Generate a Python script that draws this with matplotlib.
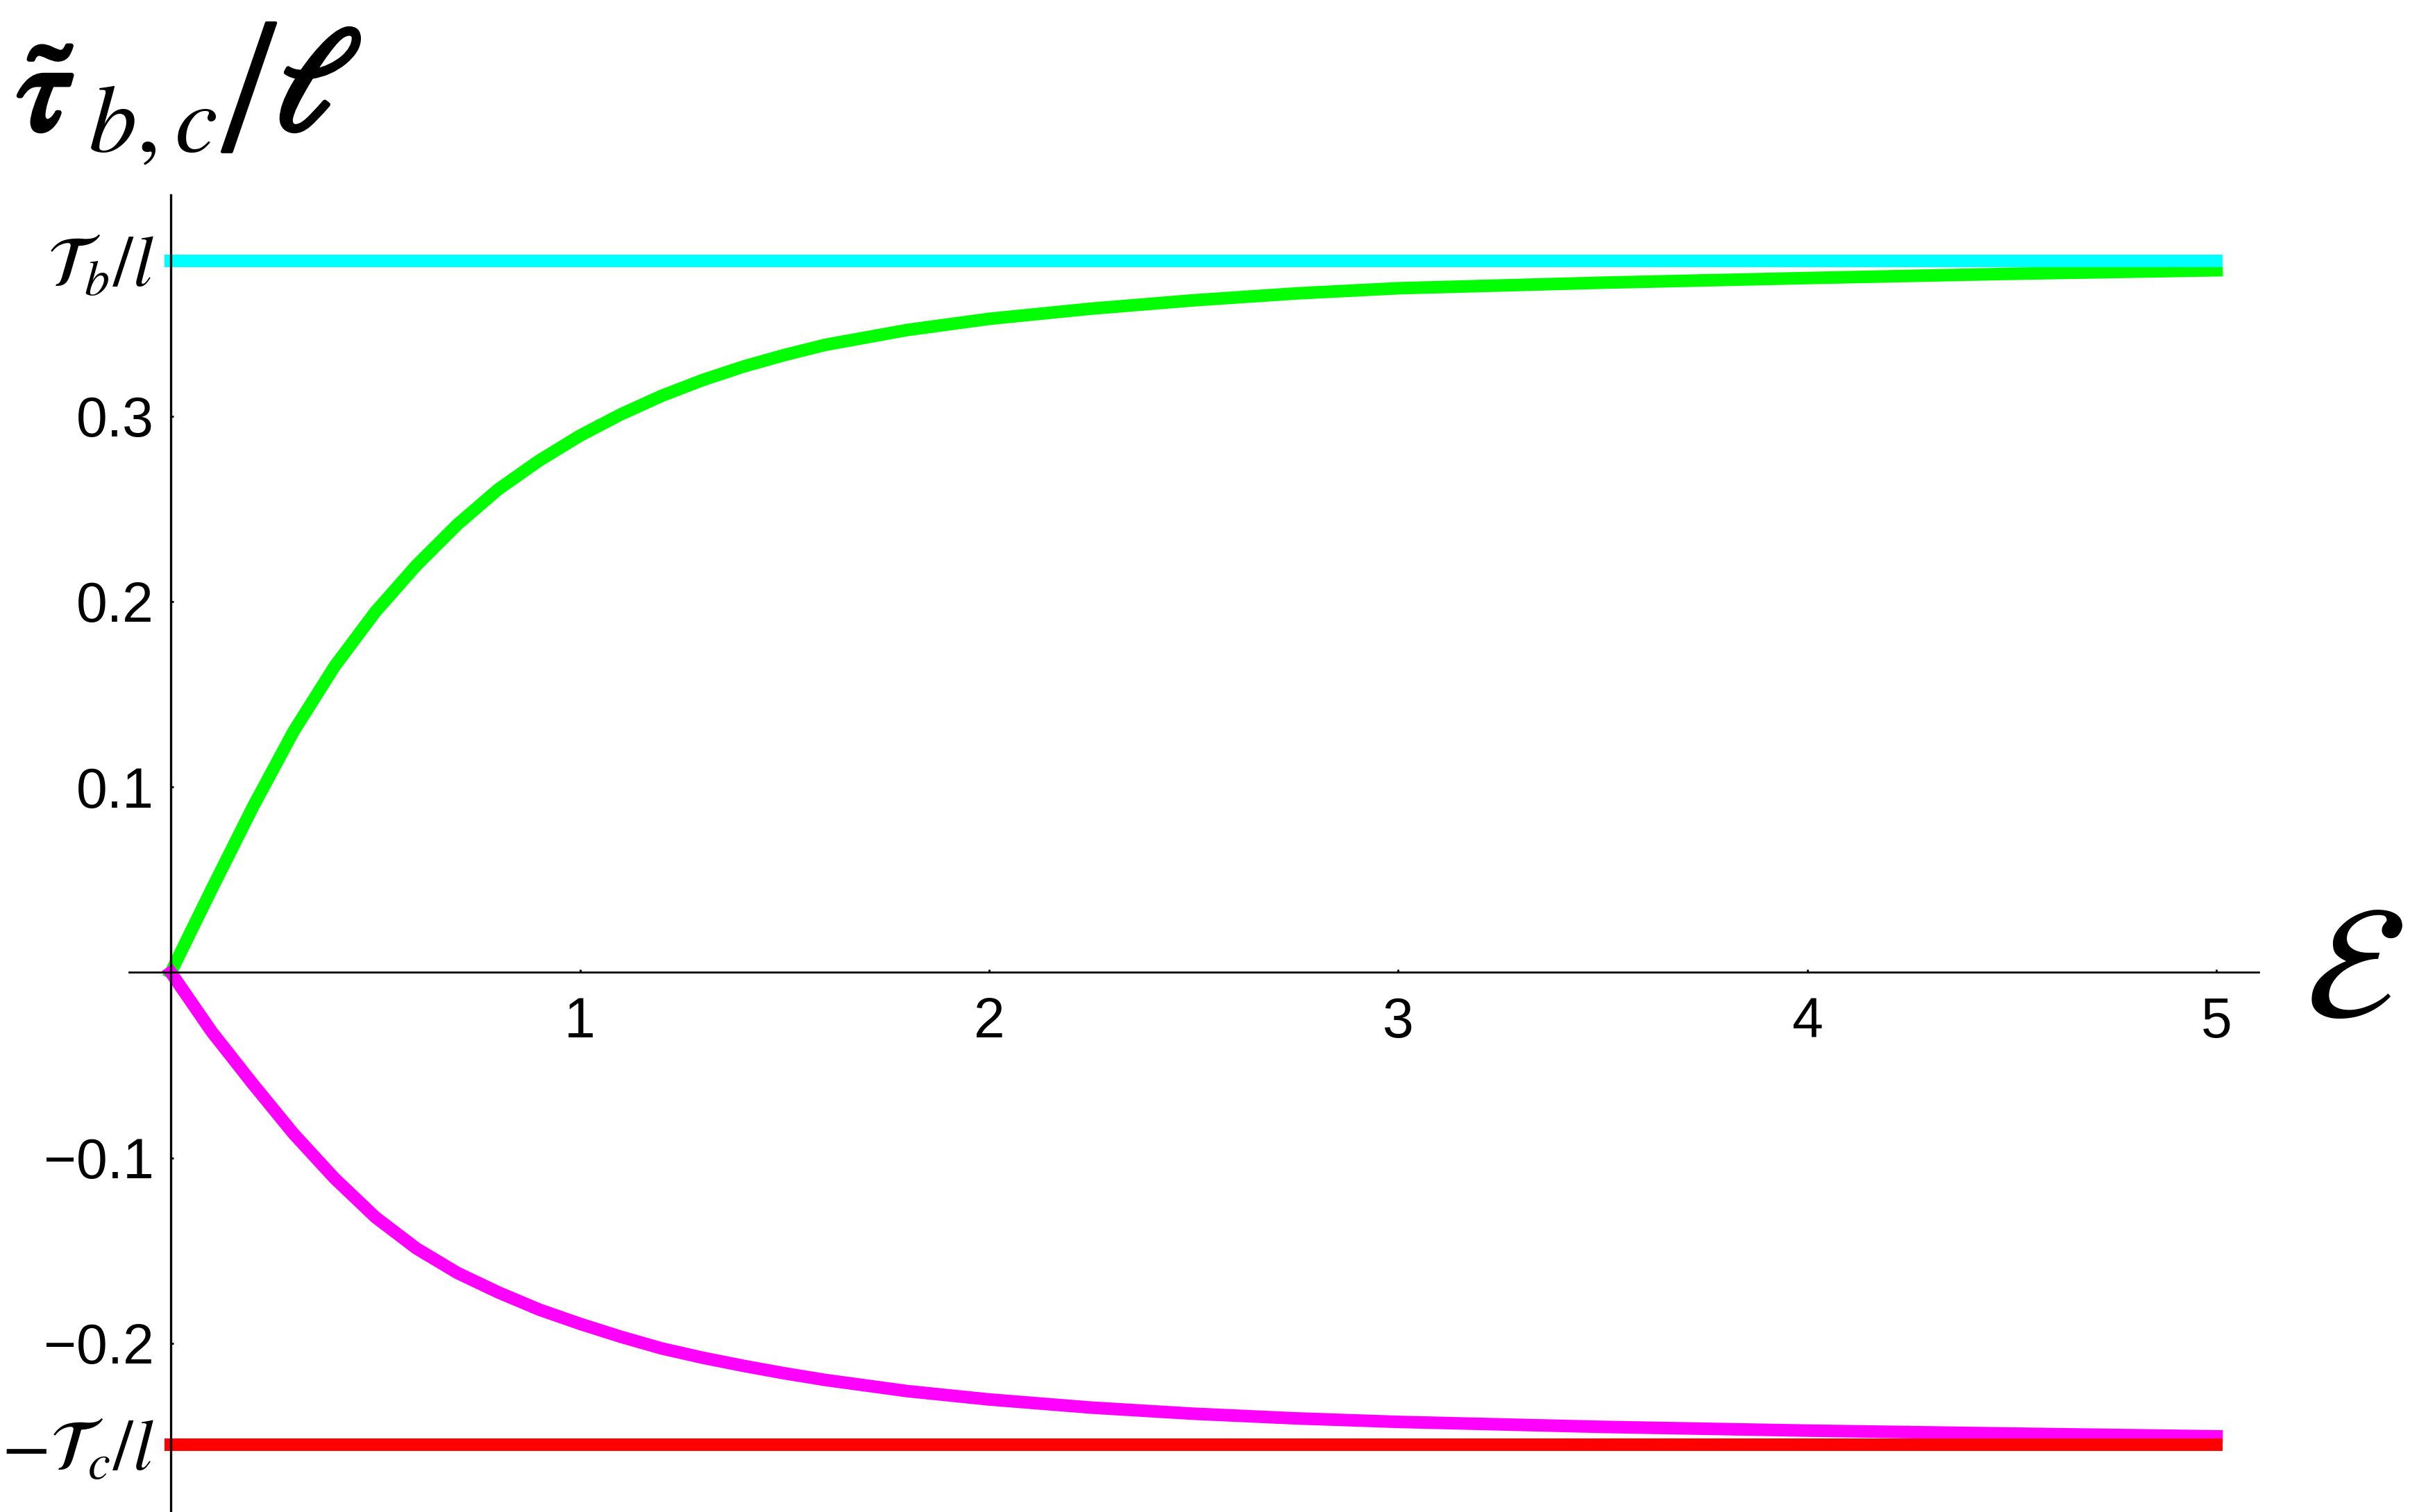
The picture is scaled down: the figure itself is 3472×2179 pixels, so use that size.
import matplotlib
matplotlib.use("Agg")
import matplotlib.pyplot as plt
import matplotlib.patheffects as pe

# ---- data ----
eps = [0, 0.1, 0.2, 0.3, 0.4, 0.5, 0.6, 0.7, 0.8, 0.9, 1.0, 1.1, 1.2, 1.3, 1.4,
       1.5, 1.6, 1.8, 2.0, 2.25, 2.5, 2.75, 3.0, 3.5, 4.0, 4.5, 5.0]
tau_b_curve = [0, 0.045, 0.089, 0.130, 0.165, 0.1945, 0.2195, 0.2415, 0.2605,
               0.276, 0.2895, 0.301, 0.311, 0.3195, 0.3268, 0.333, 0.3385,
               0.3465, 0.3525, 0.358, 0.3625, 0.3662, 0.369, 0.372, 0.3745,
               0.3768, 0.3787]
tau_c_curve = [0, -0.032, -0.060, -0.087, -0.111, -0.132, -0.1488, -0.162,
               -0.1725, -0.1818, -0.1895, -0.1965, -0.2028, -0.2078, -0.2122,
               -0.2162, -0.2198, -0.2258, -0.2303, -0.2347, -0.2380, -0.2405,
               -0.2424, -0.2451, -0.2471, -0.2487, -0.2502]
tau_b_limit = 0.3839
tau_c_limit = 0.2547
x_range = [0, 5]

xticks = [1, 2, 3, 4, 5]
xticklabels = ["1", "2", "3", "4", "5"]
yticks = [-tau_c_limit, -0.2, -0.1, 0.1, 0.2, 0.3, tau_b_limit]
yticklabels = [r"$-\mathcal{T}_c/l$", "\u22120.2", "\u22120.1", "0.1", "0.2", "0.3",
               r"$\mathcal{T}_b/l$"]

plt.rcParams["font.family"] = ["Liberation Sans", "DejaVu Sans"]
plt.rcParams["mathtext.fontset"] = "stix"

W, H = 3472, 2179
fig = plt.figure(figsize=(W / 200, H / 200), dpi=200)
ax = fig.add_axes([186 / W, 0.0, (3254 - 186) / W, (H - 281) / H])

lw = 6.5
ax.plot(eps, tau_b_curve, color=(0, 1, 0), lw=lw, solid_capstyle="projecting",
        solid_joinstyle="round", zorder=3)
ax.plot(eps, tau_c_curve, color=(1, 0, 1), lw=lw, solid_capstyle="projecting",
        solid_joinstyle="round", zorder=3)
ax.plot(x_range, [tau_b_limit] * 2, color=(0, 1, 1), lw=lw, solid_capstyle="projecting", zorder=4)
ax.plot(x_range, [-tau_c_limit] * 2, color=(1, 0, 0), lw=lw, solid_capstyle="projecting", zorder=4)

ax.set_xlim(-0.102, 5.103)
ax.set_ylim(-0.291, 0.4193)

for s in ["top", "right"]:
    ax.spines[s].set_visible(False)
ax.spines["left"].set_position(("data", 0))
ax.spines["bottom"].set_position(("data", 0))
ax.spines["left"].set_linewidth(1.2)
ax.spines["bottom"].set_linewidth(1.0)
ax.spines["left"].set_zorder(5)
ax.spines["bottom"].set_zorder(5)

ax.set_xticks(xticks)
ax.set_xticklabels(xticklabels)
ax.set_yticks(yticks)
ax.set_yticklabels(yticklabels)
ax.tick_params(axis="x", direction="in", length=1.5, width=1, labelsize=29, pad=12.5)
ax.tick_params(axis="y", direction="in", length=1.5, width=1, labelsize=29, pad=8.8)
for lab in ax.get_yticklabels():
    if "mathcal" in lab.get_text():
        lab.set_fontsize(37)

# vertical axis title, built from pieces so the subscript keeps its size
bold = [pe.withStroke(linewidth=2.5, foreground="black")]
fig.text(25 / W, 1 - 187 / H, r"$\tilde{\tau}$", fontsize=66, ha="left",
         va="baseline", path_effects=bold)
fig.text(127 / W, 1 - 218 / H, r"$b,c$", fontsize=50, ha="left", va="baseline")
fig.text(320 / W, 1 - 216 / H, "/", fontsize=100, family="Liberation Serif",
         ha="left", va="baseline",
         path_effects=[pe.withStroke(linewidth=1.5, foreground="black")])
fig.text(396 / W, 1 - 187 / H, r"$\ell$", fontsize=76, ha="left", va="baseline",
         path_effects=bold)

# horizontal axis title
fig.text(3320 / W, 1 - 1407 / H, r"$\mathcal{E}$", fontsize=84,
         ha="left", va="center")

fig.savefig("out.png", dpi=200)
